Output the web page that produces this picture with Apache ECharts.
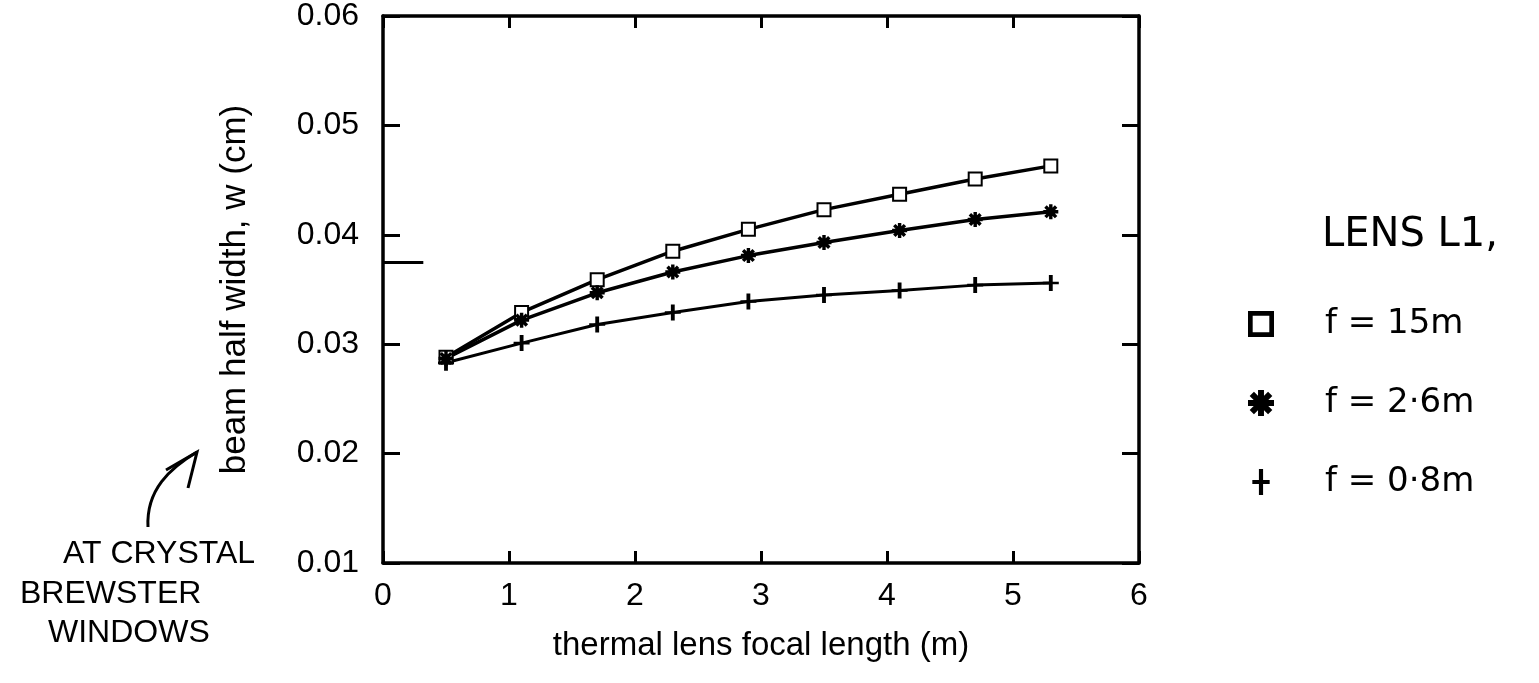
<!DOCTYPE html>
<html>
<head>
<meta charset="utf-8">
<script src="https://cdn.jsdelivr.net/npm/echarts@6/dist/echarts.min.js"></script>
<style>
  html, body { margin: 0; padding: 0; background: #fff; }
  #chart { width: 1539px; height: 683px; }
</style>
</head>
<body>
<div id="chart"></div>
<script>
// thermal lens focal length (m)
var focalLength = [0.5, 1.1, 1.7, 2.3, 2.9, 3.5, 4.1, 4.7, 5.3];
// beam half width w (cm) for each lens L1 focal length
var widthF15 = [0.0288, 0.0329, 0.0359, 0.0385, 0.0405, 0.0423, 0.0437, 0.0451, 0.0463];
var widthF26 = [0.0287, 0.0322, 0.0347, 0.0366, 0.0381, 0.0393, 0.0404, 0.0414, 0.0421];
var widthF08 = [0.0283, 0.0301, 0.0318, 0.0329, 0.0339, 0.0345, 0.0349, 0.0354, 0.0356];
var seriesNames = ['f = 15m', 'f = 2·6m', 'f = 0·8m'];
// short mark at the crystal brewster windows
var brewsterWidth = 0.0375;
var brewsterSpan = [0, 0.32];

var font = 'Liberation Sans';
var hand = 'DejaVu Sans';

// marker shapes
var starPath = 'path://M-1.6,-7 L1.6,-7 L1.6,7 L-1.6,7 Z M-7,-1.6 L7,-1.6 L7,1.6 L-7,1.6 Z M-6.1,-3.8 L-3.8,-6.1 L6.1,3.8 L3.8,6.1 Z M-3.8,6.1 L-6.1,3.8 L3.8,-6.1 L6.1,-3.8 Z';
var plusPath = 'path://M-1.2,-7.5 L1.2,-7.5 L1.2,7.5 L-1.2,7.5 Z M-5,-1.2 L5,-1.2 L5,1.2 L-5,1.2 Z';
var boxPath = 'path://M0,0 L10,0 L10,10 L0,10 Z M1.8,1.8 L1.8,8.2 L8.2,8.2 L8.2,1.8 Z';

function pairs(ys) {
  var out = [];
  for (var i = 0; i < focalLength.length; i++) out.push([focalLength[i], ys[i]]);
  return out;
}

var chart = echarts.init(document.getElementById('chart'));

var axisLine = { show: true, onZero: false, lineStyle: { color: '#000', width: 3.5 } };
var xTick = { show: true, inside: true, length: 12, lineStyle: { color: '#000', width: 3 } };
var yTick = { show: true, inside: true, length: 17, lineStyle: { color: '#000', width: 3 } };

var option = {
  backgroundColor: '#fff',
  animation: false,
  grid: { left: 383, right: 400, top: 16, bottom: 120, containLabel: false },
  xAxis: [{
    type: 'value', min: 0, max: 6, interval: 1,
    name: 'thermal lens focal length (m)',
    nameLocation: 'middle', nameGap: 66,
    nameTextStyle: { fontFamily: font, fontSize: 33, color: '#000' },
    axisLine: axisLine, axisTick: xTick,
    axisLabel: { fontFamily: font, fontSize: 32, color: '#000', margin: 17 },
    splitLine: { show: false }
  }, {
    type: 'value', min: 0, max: 6, interval: 1, position: 'top',
    axisLine: axisLine, axisTick: xTick,
    axisLabel: { show: false },
    splitLine: { show: false }
  }],
  yAxis: [{
    type: 'value', min: 0.01, max: 0.06, interval: 0.01, position: 'left',
    name: 'beam half width, w (cm)',
    nameLocation: 'middle', nameGap: 130, nameRotate: 90,
    nameTextStyle: { fontFamily: font, fontSize: 35, color: '#000' },
    axisLine: axisLine, axisTick: yTick,
    axisLabel: { fontFamily: font, fontSize: 32, color: '#000', margin: 24,
      formatter: function (v) { return v.toFixed(2); } },
    splitLine: { show: false }
  }, {
    type: 'value', min: 0.01, max: 0.06, interval: 0.01, position: 'right',
    axisLine: axisLine, axisTick: yTick,
    axisLabel: { show: false },
    splitLine: { show: false }
  }],
  legend: {
    orient: 'vertical',
    left: 1243, top: 302,
    itemWidth: 26, itemHeight: 26, itemGap: 45,
    selectedMode: false,
    textStyle: { fontFamily: hand, fontSize: 34, color: '#000', padding: [0, 0, 0, 46] },
    data: [
      { name: seriesNames[0], icon: boxPath, itemStyle: { color: '#000', borderWidth: 0 } },
      { name: seriesNames[1], icon: starPath, itemStyle: { color: '#000', borderWidth: 0 } },
      { name: seriesNames[2], icon: plusPath, itemStyle: { color: '#000', borderWidth: 0 } }
    ]
  },
  graphic: [
    { type: 'text', left: 1322, top: 216,
      style: { text: 'LENS L1,', font: '40px "DejaVu Sans"', fill: '#000' } },
    { type: 'text', left: 63, top: 538,
      style: { text: 'AT CRYSTAL', font: '32px "Liberation Sans"', fill: '#000' } },
    { type: 'text', left: 20, top: 578,
      style: { text: 'BREWSTER', font: '32px "Liberation Sans"', fill: '#000' } },
    { type: 'text', left: 48, top: 617,
      style: { text: 'WINDOWS', font: '32px "Liberation Sans"', fill: '#000' } },
    { type: 'bezierCurve',
      shape: { x1: 148, y1: 527, x2: 197, y2: 452, cpx1: 146, cpy1: 490, cpx2: 170, cpy2: 468 },
      style: { stroke: '#000', lineWidth: 3, fill: null } },
    { type: 'polyline',
      shape: { points: [[166, 470], [197, 452], [188, 488]] },
      style: { stroke: '#000', lineWidth: 3, fill: null } }
  ],
  series: [{
    name: seriesNames[0], type: 'line', data: pairs(widthF15),
    symbol: 'emptyRect', symbolSize: 13, showAllSymbol: true,
    lineStyle: { color: '#000', width: 3.5 },
    itemStyle: { color: '#000', borderColor: '#000', borderWidth: 3 },
    markLine: {
      silent: true, symbol: 'none', label: { show: false },
      lineStyle: { color: '#000', width: 3, type: 'solid' },
      data: [[{ coord: [brewsterSpan[0], brewsterWidth] }, { coord: [brewsterSpan[1], brewsterWidth] }]]
    }
  }, {
    name: seriesNames[1], type: 'line', data: pairs(widthF26),
    symbol: starPath, symbolSize: 15, showAllSymbol: true,
    lineStyle: { color: '#000', width: 3.5 },
    itemStyle: { color: '#000', borderWidth: 0 }
  }, {
    name: seriesNames[2], type: 'line', data: pairs(widthF08),
    symbol: plusPath, symbolSize: 16, showAllSymbol: true,
    lineStyle: { color: '#000', width: 3 },
    itemStyle: { color: '#000', borderWidth: 0 }
  }]
};

chart.setOption(option);
</script>
</body>
</html>
